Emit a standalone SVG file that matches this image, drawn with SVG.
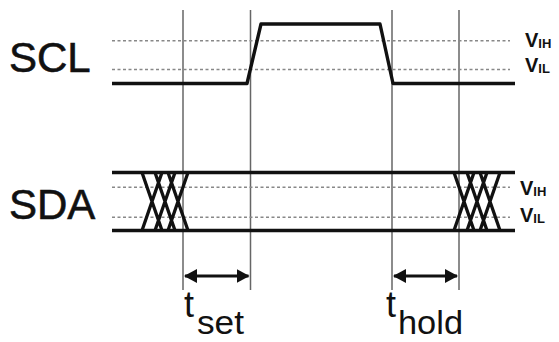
<svg xmlns="http://www.w3.org/2000/svg" width="559" height="342" viewBox="0 0 559 342">
<style>
.bg{fill:#fff}
.grid{stroke:#666;stroke-width:1.5;fill:none}
.dot{stroke:#888;stroke-width:1.6;stroke-dasharray:3 2.5;fill:none}
.wave{stroke:#111;stroke-width:3.4;fill:none;stroke-linejoin:round}
.xw{stroke:#111;stroke-width:3.3;fill:none}
.lbl{font-family:"Liberation Sans",Arial,sans-serif;fill:#111}
.v{font-family:"Liberation Sans",Arial,sans-serif;fill:#111;font-weight:bold}
.arr{stroke:#111;stroke-width:3.2;fill:none}
</style>
<defs>
<marker id="ah" viewBox="0 0 13 14" refX="12" refY="7" markerWidth="13" markerHeight="14" markerUnits="userSpaceOnUse" orient="auto-start-reverse">
<path d="M0,0 L13,7 L0,14 Z" fill="#111"/>
</marker>
<g id="xx">
<path d="M0,0 L20,58 M0,58 L20,0 M13,0 L33,58 M13,58 L33,0 M26,0 L46,58 M26,58 L46,0"/>
</g>
</defs>
<rect class="bg" x="0" y="0" width="559" height="342"/>
<g id="gridlines">
<line class="grid" x1="183" y1="10" x2="183" y2="290"/>
<line class="grid" x1="250.5" y1="10" x2="250.5" y2="290"/>
<line class="grid" x1="392" y1="10" x2="392" y2="290"/>
<line class="grid" x1="459" y1="10" x2="459" y2="290"/>
<line class="dot" x1="112" y1="40.7" x2="510" y2="40.7"/>
<line class="dot" x1="112" y1="69.5" x2="510" y2="69.5"/>
<line class="dot" x1="112" y1="187.3" x2="510" y2="187.3"/>
<line class="dot" x1="112" y1="217.3" x2="510" y2="217.3"/>
</g>
<g id="scl">
<text class="lbl" x="9" y="72" font-size="42" stroke="#111" stroke-width="0.6">SCL</text>
<path class="wave" d="M112,83.5 L247,83.5 L261,24 L380,24 L393,83.5 L515,83.5"/>
<text class="v" x="525" y="47" font-size="20">V<tspan font-size="13" dy="1">IH</tspan></text>
<text class="v" x="525" y="72" font-size="20">V<tspan font-size="13" dy="1">IL</tspan></text>
</g>
<g id="sda">
<text class="lbl" x="9" y="219" font-size="42" stroke="#111" stroke-width="0.6">SDA</text>
<path class="wave" d="M112,172.5 L515,172.5 M112,230.5 L515,230.5"/>
<use href="#xx" class="xw" x="142" y="172.5"/>
<use href="#xx" class="xw" x="454" y="172.5"/>
<text class="v" x="520" y="195" font-size="20">V<tspan font-size="13" dy="1">IH</tspan></text>
<text class="v" x="520" y="222" font-size="20">V<tspan font-size="13" dy="1">IL</tspan></text>
</g>
<g id="connectors">
<line class="arr" x1="185" y1="276" x2="248.5" y2="276" marker-start="url(#ah)" marker-end="url(#ah)"/>
<line class="arr" x1="394" y1="276" x2="457" y2="276" marker-start="url(#ah)" marker-end="url(#ah)"/>
</g>
<g id="tset">
<text class="lbl" x="184" y="317" font-size="36">t</text>
<text class="lbl" x="197" y="334" font-size="34" textLength="47" lengthAdjust="spacingAndGlyphs">set</text>
</g>
<g id="thold">
<text class="lbl" x="386" y="317" font-size="36">t</text>
<text class="lbl" x="398" y="334" font-size="34" textLength="65" lengthAdjust="spacingAndGlyphs">hold</text>
</g>
</svg>
